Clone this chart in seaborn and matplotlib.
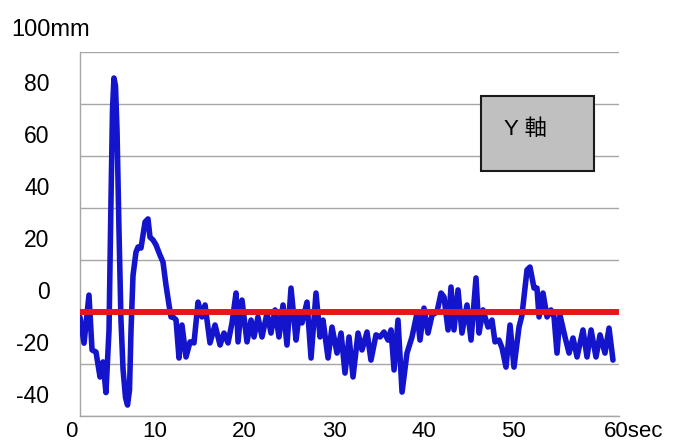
"""
Y-axis displacement trace over 60 seconds, with the zero baseline in red.
"""

import matplotlib

matplotlib.use("Agg")
import matplotlib.pyplot as plt
import matplotlib.transforms as mtransforms
import pandas as pd
import seaborn as sns
from matplotlib.patches import Rectangle

# values
time_sec = [
    0.0, 0.45, 1.0, 1.34, 1.78, 2.23, 2.56, 2.89, 3.23, 3.45, 3.62, 3.78, 3.95, 4.12,
    4.34, 4.56, 4.79, 5.07, 5.29, 5.51, 5.68, 5.9, 6.23, 6.46, 6.79, 7.24, 7.57, 7.79,
    8.13, 8.46, 8.9, 9.24, 9.57, 9.91, 10.13, 10.35, 10.69, 11.02, 11.35, 11.8, 12.25,
    12.69, 13.14, 13.58, 13.92, 14.47, 15.03, 15.59, 16.03, 16.48, 16.92, 17.37, 17.59,
    18.03, 18.59, 19.04, 19.37, 19.81, 20.26, 20.82, 21.26, 21.71, 22.15, 22.6, 23.04,
    23.49, 24.05, 24.38, 24.71, 25.27, 25.72, 26.27, 26.72, 27.05, 27.61, 28.05, 28.61,
    29.06, 29.5, 29.95, 30.39, 30.95, 31.39, 31.95, 32.39, 32.95, 33.4, 33.84, 34.29,
    34.62, 34.96, 35.4, 35.85, 36.4, 36.96, 37.52, 37.85, 38.29, 38.74, 39.19, 39.74,
    40.19, 40.52, 40.97, 41.3, 41.63, 42.08, 42.52, 43.08, 43.53, 44.08, 44.42, 44.86,
    45.42, 45.86, 46.2, 46.64, 46.98, 47.42, 47.87, 48.31, 48.87, 49.2, 49.76, 50.09,
    50.54, 50.87, 51.1, 51.54, 51.99, 52.43, 52.77, 53.1, 53.43, 53.99, 54.44, 54.88,
    55.33, 55.99, 56.44, 56.89, 57.44, 57.89, 58.44, 58.89, 59.33,
]
disp_mm = [
    -2, -12, 6.5, -14.6, -15.4, -25, -19.2, -31, -7, 43, 78, 90, 87, 70,
    31.5, -3, -22, -33, -35.8, -30, -7, 14, 23, 25, 24.6, 34.6, 35.8, 28.8,
    27.7, 25.8, 21.9, 19.2, 10.4, 2.7, -1.9, -1.9, -3, -17.7, -5, -17.3, -11.5,
    -11.9, 3.8, -1.9, 2.7, -11.9, -5, -12.7, -8.1, -11.9, -4.2, 7.3, -11.5,
    4.6, -11.5, -3.1, -9.6, -1.9, -9.6, -0.4, -8.1, 0.8, -9.6, 2.7, -12.7,
    9.2, -10.8, -1.2, -4.2, 3.8, -17.7, 7.3, -9.6, -3.1, -17.7, -5.8, -15.8,
    -8.1, -23.5, -9.6, -25, -8.1, -14.6, -7.7, -18.5, -8.8, -9.6, -7.7, -10.8,
    -6.9, -22.3, -3.1, -30.8, -15.8, -9.6, -0.4, -10.8, 1.5, -8.1, -1.2, 0,
    7.3, 5.8, -6.9, 9.6, -6.9, 8.5, -8.1, 2.7, -10.8, 13.1, -8.1, 0.8,
    -5.8, -3.1, -11.5, -10.8, -13.8, -21.2, -5, -21.2, -5.8, -1.2, 16.2, 17.3,
    9.2, 9.2, -1.9, 7.3, -1.9, 0.8, -1.9, -15.8, -1.2, -9.6, -15.8, -10,
    -17.3, -6.9, -17.3, -6.9, -17.3, -8.8, -15.8, -6.2, -18.5,
]

baseline_mm = 0
y_ticks = [-40, -20, 0, 20, 40, 60, 80, 100]
y_tick_labels = ["-40", "-20", "0", "20", "40", "60", "80", ""]
x_ticks = [0, 10, 20, 30, 40, 50, 60]
x_tick_labels = ["0", "10", "20", "30", "40", "50", "60sec"]
y_unit = "100mm"
legend_text = "Y 軸"

sns.set_style("white")
plt.rcParams["font.family"] = ["Liberation Sans", "Noto Sans CJK JP", "DejaVu Sans"]
plt.rcParams["text.color"] = "black"
plt.rcParams["xtick.labelcolor"] = "black"
plt.rcParams["ytick.labelcolor"] = "black"

GRID = "#a6a6a6"

fig = plt.figure(figsize=(6.77, 4.44), dpi=100)
ax = fig.add_axes([80 / 677, 28 / 444, 539 / 677, 364 / 444])

df = pd.DataFrame({"t": time_sec, "mm": disp_mm})
sns.lineplot(data=df, x="t", y="mm", ax=ax, color="#1414cc", linewidth=4,
             sort=False, estimator=None, zorder=3,
             solid_joinstyle="round", solid_capstyle="round")
ax.axhline(baseline_mm, color="#e8161c", linewidth=4.3, zorder=4)

ax.set_xlim(0, 60)
ax.set_ylim(-40, 100)
ax.set_xticks(x_ticks, x_tick_labels)
ax.set_yticks(y_ticks, y_tick_labels)
ax.set_xlabel("")
ax.set_ylabel("")

ax.set_axisbelow(True)
ax.yaxis.grid(True, color=GRID, linewidth=1)
ax.xaxis.grid(False)
for side in ["top", "right"]:
    ax.spines[side].set_visible(False)
for side in ["left", "bottom"]:
    ax.spines[side].set_color(GRID)
    ax.spines[side].set_linewidth(1)

ax.tick_params(axis="y", length=8, width=1, color=GRID, labelsize=16.5, pad=14,
               labelcolor="black")
ax.tick_params(axis="x", length=6, width=1, color=GRID, labelsize=16, pad=0,
               labelcolor="black")

# labels sit above their gridline in the reference
up = mtransforms.ScaledTranslation(0, 22 / 100, fig.dpi_scale_trans)
for lab in ax.get_yticklabels():
    lab.set_transform(lab.get_transform() + up)

# x labels sit just left of their tick, tucked up beside it
xlabs = ax.get_xticklabels()
nudge = mtransforms.ScaledTranslation(-3 / 100, 3 / 100, fig.dpi_scale_trans)
for lab in xlabs[:-1]:
    lab.set_ha("right")
    lab.set_transform(lab.get_transform() + nudge)
xlabs[-1].set_ha("left")
xlabs[-1].set_transform(xlabs[-1].get_transform()
                        + mtransforms.ScaledTranslation(-15 / 100, 3 / 100, fig.dpi_scale_trans))

ax.annotate(y_unit, xy=(0, 1), xycoords="axes fraction", xytext=(-69, 22),
            textcoords="offset pixels", ha="left", va="center", fontsize=17,
            color="black")

# grey legend box
ax.add_patch(Rectangle((0.744, 0.673), 0.21, 0.206, transform=ax.transAxes,
                       facecolor="#c0c0c0", edgecolor="#1a1a1a", linewidth=1.5,
                       zorder=5, clip_on=False))
ax.text(0.827, 0.786, legend_text, transform=ax.transAxes, ha="center", va="center",
        fontsize=16, zorder=6, color="black")

fig.savefig("out.png", dpi=100)
